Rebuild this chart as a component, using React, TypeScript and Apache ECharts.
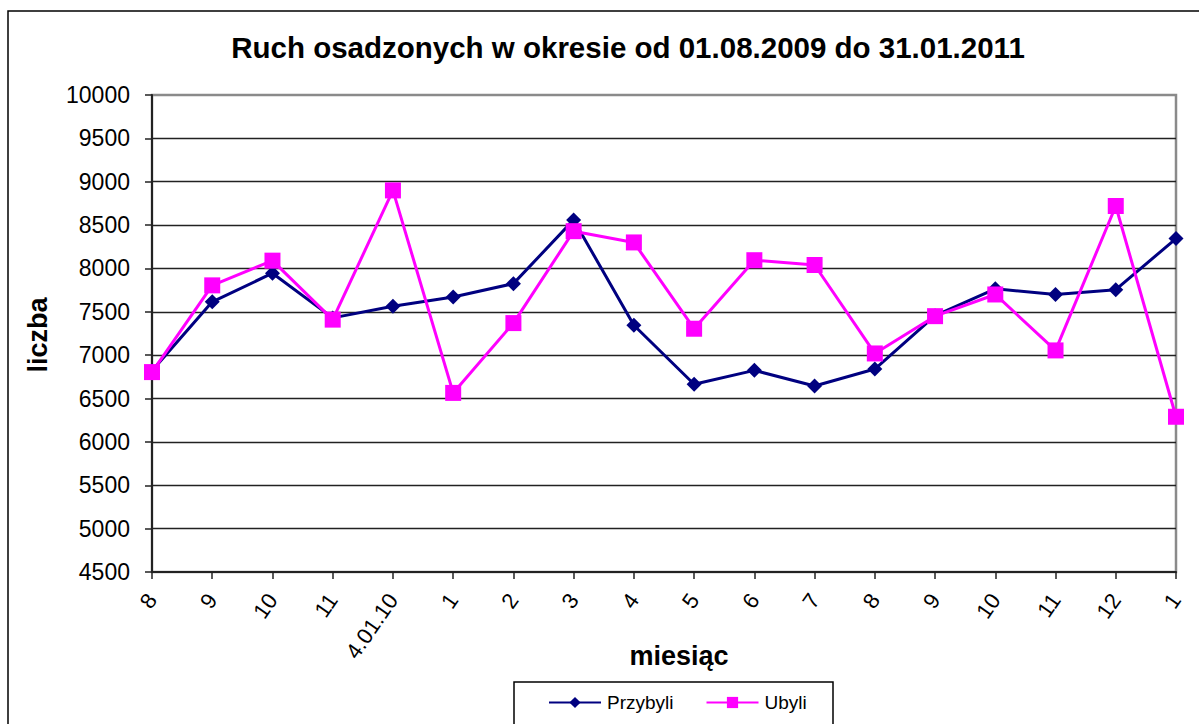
import React, { useEffect, useRef } from "react";
import * as echarts from "echarts";

const categories = ["8", "9", "10", "11", "4.01.10", "1", "2", "3", "4", "5", "6", "7", "8", "9", "10", "11", "12", "1"];
const przybyli = [6820, 7615, 7945, 7430, 7565, 7670, 7825, 8560, 7345, 6665, 6825, 6645, 6840, 7455, 7765, 7700, 7755, 8345];
const ubyli = [6805, 7805, 8090, 7410, 8900, 6565, 7370, 8430, 8300, 7305, 8095, 8040, 7020, 7450, 7700, 7055, 8720, 6290];
const yTicks = { min: 4500, max: 10000, interval: 500 };

const FONT = "'Liberation Sans', Arial, sans-serif";

export default function App() {
  const ref = useRef<HTMLDivElement>(null);
  useEffect(() => {
    if (!ref.current) return;
    const chart = echarts.init(ref.current, null, { renderer: "svg" });
    chart.setOption({
      animation: false,
      backgroundColor: "#fff",
      textStyle: { fontFamily: FONT },
      grid: {
        left: 152,
        right: 23,
        top: 95,
        bottom: 152,
        show: true,
        borderColor: "#8a8a8a",
        borderWidth: 2.5,
        backgroundColor: "#fff",
      },
      xAxis: {
        type: "category",
        data: categories,
        boundaryGap: false,
        axisLine: { lineStyle: { color: "#222", width: 2 } },
        axisTick: { show: true, length: 7, lineStyle: { color: "#222", width: 1.5 } },
        axisLabel: {
          rotate: 55,
          margin: 24,
          fontSize: 22,
          color: "#000",
          fontFamily: FONT,
          interval: 0,
        },
        splitLine: { show: false },
      },
      yAxis: {
        type: "value",
        min: yTicks.min,
        max: yTicks.max,
        interval: yTicks.interval,
        axisLine: { show: true, lineStyle: { color: "#222", width: 2 } },
        axisTick: { show: true, length: 7, lineStyle: { color: "#222", width: 1.5 } },
        axisLabel: {
          fontSize: 23,
          color: "#000",
          margin: 22,
          fontFamily: FONT,
          formatter: (v: number) => String(v),
        },
        splitLine: { show: true, showMaxLine: false, showMinLine: false, lineStyle: { color: "#222", width: 1.3 } },
      },
      legend: {
        left: 548,
        top: 693,
        itemWidth: 52,
        itemHeight: 14,
        itemGap: 32,
        padding: 0,
        textStyle: { fontSize: 19, color: "#000", fontFamily: FONT, padding: [0, 0, 0, 1] },
        data: ["Przybyli", "Ubyli"],
      },
      graphic: [
        {
          type: "rect",
          shape: { x: 8, y: 11, width: 1300, height: 900 },
          style: { fill: "none", stroke: "#000", lineWidth: 1.5 },
          silent: true,
          z: -10,
        },
        {
          type: "rect",
          shape: { x: 514, y: 682, width: 319, height: 80 },
          style: { fill: "#fff", stroke: "#000", lineWidth: 1.5 },
          silent: true,
          z: 0,
        },
        {
          type: "text",
          x: 628,
          y: 47,
          style: {
            text: "Ruch osadzonych w okresie od 01.08.2009 do 31.01.2011",
            font: `bold 29.5px ${FONT}`,
            fill: "#000",
            textAlign: "center",
            textVerticalAlign: "middle",
          },
        },
        {
          type: "text",
          x: 679,
          y: 656,
          style: {
            text: "miesiąc",
            font: `bold 27px ${FONT}`,
            fill: "#000",
            textAlign: "center",
            textVerticalAlign: "middle",
          },
        },
        {
          type: "text",
          x: 38,
          y: 335,
          rotation: Math.PI / 2,
          style: {
            text: "liczba",
            font: `bold 27px ${FONT}`,
            fill: "#000",
            textAlign: "center",
            textVerticalAlign: "middle",
          },
        },
      ],
      series: [
        {
          name: "Przybyli",
          type: "line",
          data: przybyli,
          symbol: "diamond",
          symbolSize: 15,
          lineStyle: { color: "#000080", width: 3 },
          itemStyle: { color: "#000080" },
          z: 3,
        },
        {
          name: "Ubyli",
          type: "line",
          data: ubyli,
          symbol: "rect",
          symbolSize: 16,
          lineStyle: { color: "#ff00ff", width: 3 },
          itemStyle: { color: "#ff00ff" },
          z: 4,
        },
      ],
    });
    return () => chart.dispose();
  }, []);
  return (
    <div
      ref={ref}
      style={{ position: "fixed", left: 0, top: 0, width: 1199, height: 724 }}
    />
  );
}
